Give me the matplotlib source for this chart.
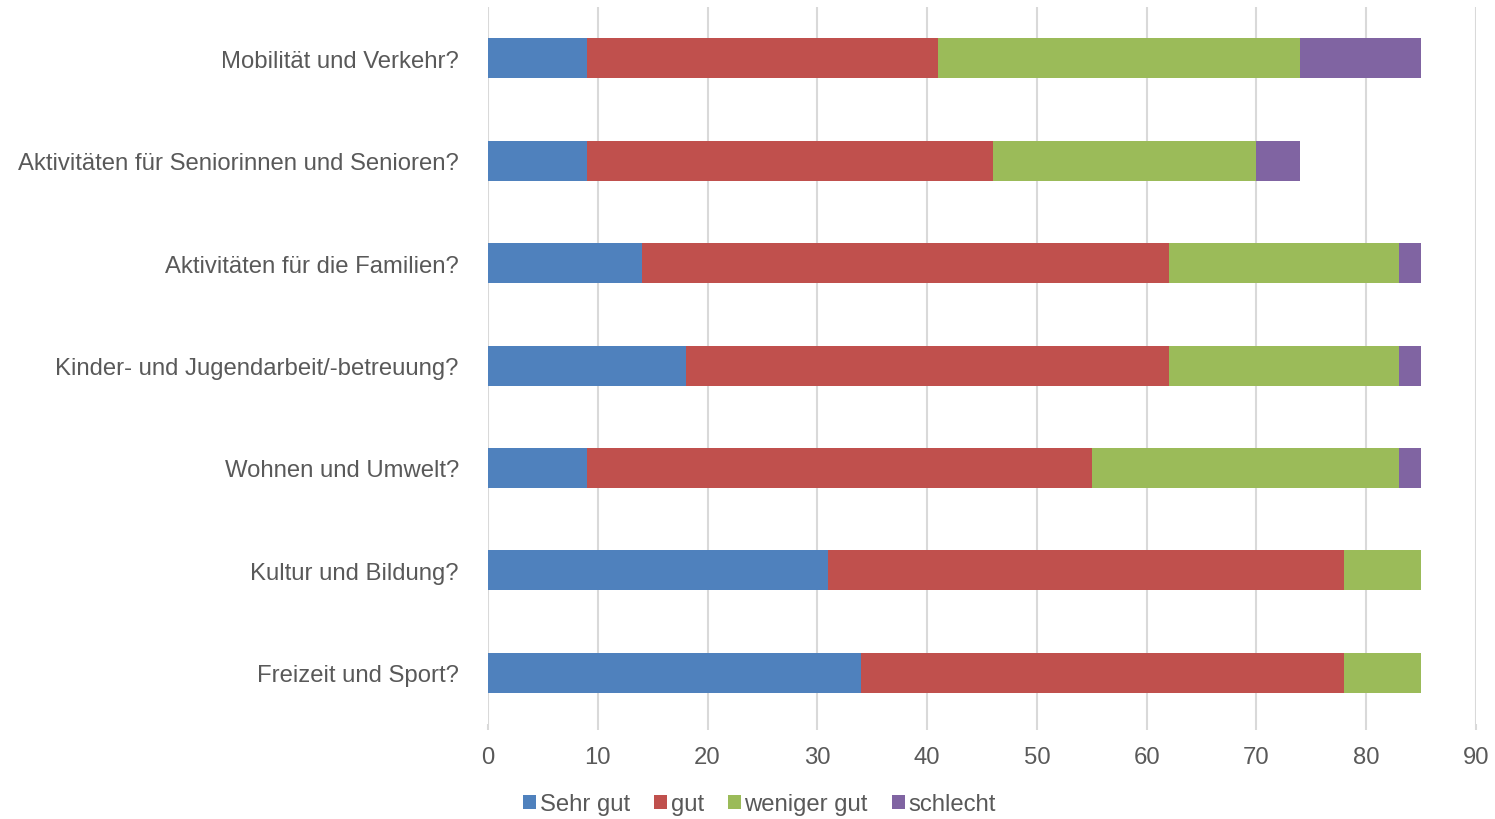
import numpy as np
import matplotlib
matplotlib.use('Agg')
import matplotlib.pyplot as plt

plt.rcParams['font.family'] = ['Liberation Sans', 'DejaVu Sans']

# Categories, top to bottom as in the chart
categories = ['Mobilität und Verkehr?',
              'Aktivitäten für Seniorinnen und Senioren?',
              'Aktivitäten für die Familien?',
              'Kinder- und Jugendarbeit/-betreuung?',
              'Wohnen und Umwelt?',
              'Kultur und Bildung?',
              'Freizeit und Sport?']

sehr_gut = [9, 9, 14, 18, 9, 31, 34]
gut = [32, 37, 48, 44, 46, 47, 44]
weniger_gut = [33, 24, 21, 21, 28, 7, 7]
schlecht = [11, 4, 2, 2, 2, 0, 0]

series = [('Sehr gut', sehr_gut, '#4F81BD'),
          ('gut', gut, '#C0504D'),
          ('weniger gut', weniger_gut, '#9BBB59'),
          ('schlecht', schlecht, '#8064A2')]

text_col = '#595959'
grid_col = '#D9D9D9'

fig = plt.figure(figsize=(14.95, 8.2), dpi=100)
ax = fig.add_axes([0.3264, 0.116, 0.9873 - 0.3264, 0.874])

y = np.arange(len(categories))
left = np.zeros(len(categories))
for name, vals, col in series:
    ax.barh(y, vals, left=left, height=0.39, color=col, label=name, zorder=3)
    left += np.array(vals)

ax.set_ylim(len(categories) - 0.5, -0.5)
ax.set_xlim(0, 90)
ax.set_xticks(range(0, 91, 10))
ax.set_yticks(y)
ax.set_yticklabels(categories)

ax.xaxis.grid(True, color=grid_col, linewidth=1.5, zorder=0)
for s in ax.spines.values():
    s.set_visible(False)
ax.tick_params(axis='y', length=0, pad=21, labelsize=17.2, labelcolor=text_col)
ax.tick_params(axis='x', length=4, width=1.5, color=grid_col, pad=12,
               labelsize=17.2, labelcolor=text_col)

leg = fig.legend(loc='center', bbox_to_anchor=(0.508, 0.018), ncol=4,
                 frameon=False, fontsize=17.2, handlelength=0.55, handleheight=0.55,
                 handletextpad=0.15, columnspacing=1.0)
for t in leg.get_texts():
    t.set_color(text_col)

fig.savefig('out.png', dpi=100)
